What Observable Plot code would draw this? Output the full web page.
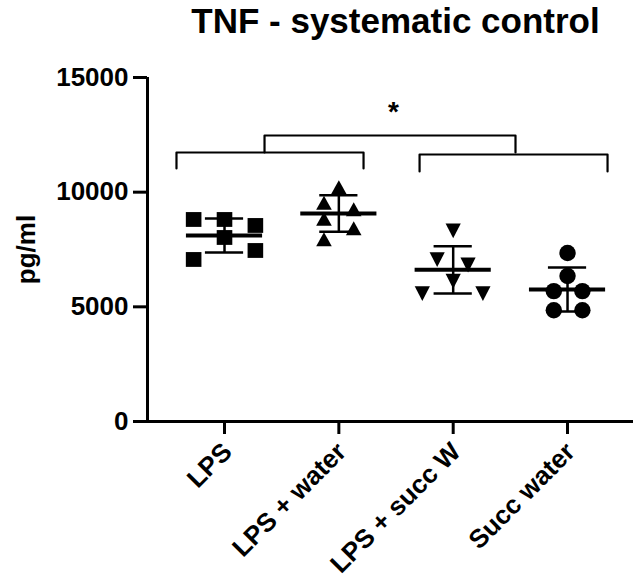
<!DOCTYPE html>
<html>
<head>
<meta charset="utf-8">
<script src="https://cdn.jsdelivr.net/npm/d3@7"></script>
<script src="https://cdn.jsdelivr.net/npm/@observablehq/plot@0.6"></script>
<style>
  body { margin: 0; background: #fff; font-family: "Liberation Sans", Arial, sans-serif; }
  #title { margin-left: 156px; width: 479px; height: 60px; text-align: center; font-size: 35px; line-height: 41px; font-weight: bold; color: #000; white-space: nowrap; }
  svg { display: block; }
</style>
</head>
<body>
<div id="title">TNF - systematic control</div>
<div id="chart"></div>
<script>
// ---- data ----
const groups = ["LPS", "LPS + water", "LPS + succ W", "Succ water"];
const lps       = [8809, 8809, 8548, 8024, 7457, 7065];
const lpsWater  = [10116, 9441, 9157, 8743, 8329, 7849];
const lpsSuccW  = [8416, 7165, 6933, 6222, 5683, 5683];
const succWater = [7347, 6345, 5683, 5683, 4853, 4853];
const means = [8111, 9070, 6613, 5756];
const sds   = [742, 800, 1030, 960];
const yTicks = [0, 5000, 10000, 15000];
const yLabel = "pg/ml";
const sigLabel = "*";

// ---- layout (horizontal spread of points within a column, in column units) ----
const jitter = [
  [-0.27, 0, 0.27, 0, 0.27, -0.27],
  [0, -0.13, 0.13, -0.13, 0.13, -0.13],
  [0, -0.14, 0.13, 0, -0.27, 0.26],
  [0, 0, -0.12, 0.13, -0.12, 0.13]
];
// significance brackets
const brackets = [
  {x1: -0.42, x2: 1.216, y: 11730, y1: 11032, y2: 11032},
  {x1: 1.706, x2: 3.35, y: 11643, y1: 10901, y2: 10901},
  {x1: 0.35, x2: 2.545, y: 12471, y1: 11730, y2: 11730}
];
const sigPos = {x: 1.478, y: 13450};

// ---- custom symbols (size = r^2 * PI in Plot) ----
const rOf = (size) => Math.sqrt(size / Math.PI);
const square = {draw(ctx, size) { const r = rOf(size); ctx.rect(-r, -r * 0.95, 2 * r, 1.9 * r); }};
const triUp = {draw(ctx, size) { const r = rOf(size), h = 1.8 * r; ctx.moveTo(0, -2 * h / 3); ctx.lineTo(r, h / 3); ctx.lineTo(-r, h / 3); ctx.closePath(); }};
const triDown = {draw(ctx, size) { const r = rOf(size), h = 1.95 * r; ctx.moveTo(0, 2 * h / 3); ctx.lineTo(r, -h / 3); ctx.lineTo(-r, -h / 3); ctx.closePath(); }};
const circle = {draw(ctx, size) { const r = rOf(size); ctx.moveTo(r, 0); ctx.arc(0, 0, r, 0, 2 * Math.PI); }};

const series = [lps, lpsWater, lpsSuccW, succWater];
const symbols = [square, triUp, triDown, circle];
const radii = [7.8, 7.8, 7.6, 8.2];

const points = series.map((vals, g) => vals.map((v, i) => ({g, x: g + jitter[g][i], y: v})));
const stats = groups.map((name, g) => ({g, name, mean: means[g], sd: sds[g]}));

const bracketLines = brackets.map(b => [
  {x: b.x1, y: b.y1}, {x: b.x1, y: b.y}, {x: b.x2, y: b.y}, {x: b.x2, y: b.y2}
]);

const font = "Liberation Sans, Arial, sans-serif";
const xMin = -0.6735, xMax = 3.577;

const marks = [];
// y axis
marks.push(Plot.axisY({ticks: yTicks, tickSize: 14, tickPadding: 5, fontSize: 26, fontWeight: "bold", strokeWidth: 3, label: null, tickFormat: d => String(d)}));
marks.push(Plot.ruleX([xMin], {y1: 0, y2: 15000, strokeWidth: 3}));
// x axis
marks.push(Plot.ruleY([0], {strokeWidth: 3}));
marks.push(Plot.axisX({ticks: [0, 1, 2, 3], tickSize: 13, strokeWidth: 3, tickFormat: () => "", label: null}));
marks.push(Plot.text(groups, {x: (d, i) => i, y: () => 0, text: d => d, rotate: -45, textAnchor: "end", lineAnchor: "middle", dx: 3, dy: 26, fontSize: 26, fontWeight: "bold"}));
// y label
marks.push(Plot.text([yLabel], {frameAnchor: "left", text: d => d, rotate: -90, textAnchor: "middle", lineAnchor: "middle", dx: -121, fontSize: 26, fontWeight: "bold"}));
// brackets
bracketLines.forEach(b => marks.push(Plot.line(b, {x: "x", y: "y", strokeWidth: 2.2, stroke: "#000"})));
marks.push(Plot.text([sigLabel], {x: () => sigPos.x, y: () => sigPos.y, text: d => d, fontSize: 28, fontWeight: "bold", dy: -1}));
// points
points.forEach((pts, g) => marks.push(Plot.dot(pts, {x: "x", y: "y", r: radii[g], symbol: symbols[g], fill: "#000", stroke: "none"})));
// mean and SD
marks.push(Plot.ruleX(stats, {x: "g", y1: d => d.mean - d.sd, y2: d => d.mean + d.sd, strokeWidth: 2.5}));
marks.push(Plot.ruleY(stats, {y: d => d.mean + d.sd, x1: d => d.g - 0.167, x2: d => d.g + 0.167, strokeWidth: 2.5}));
marks.push(Plot.ruleY(stats, {y: d => d.mean - d.sd, x1: d => d.g - 0.167, x2: d => d.g + 0.167, strokeWidth: 2.5}));
marks.push(Plot.ruleY(stats, {y: "mean", x1: d => d.g - 0.333, x2: d => d.g + 0.333, strokeWidth: 4}));

const chart = Plot.plot({
  width: 635,
  height: 521,
  marginLeft: 147,
  marginRight: 2,
  marginTop: 17,
  marginBottom: 160,
  style: {fontFamily: font, color: "#000", background: "#fff"},
  x: {type: "linear", domain: [xMin, xMax], axis: null},
  y: {type: "linear", domain: [0, 15000], axis: null},
  marks
});
document.getElementById("chart").appendChild(chart);
</script>
</body>
</html>
